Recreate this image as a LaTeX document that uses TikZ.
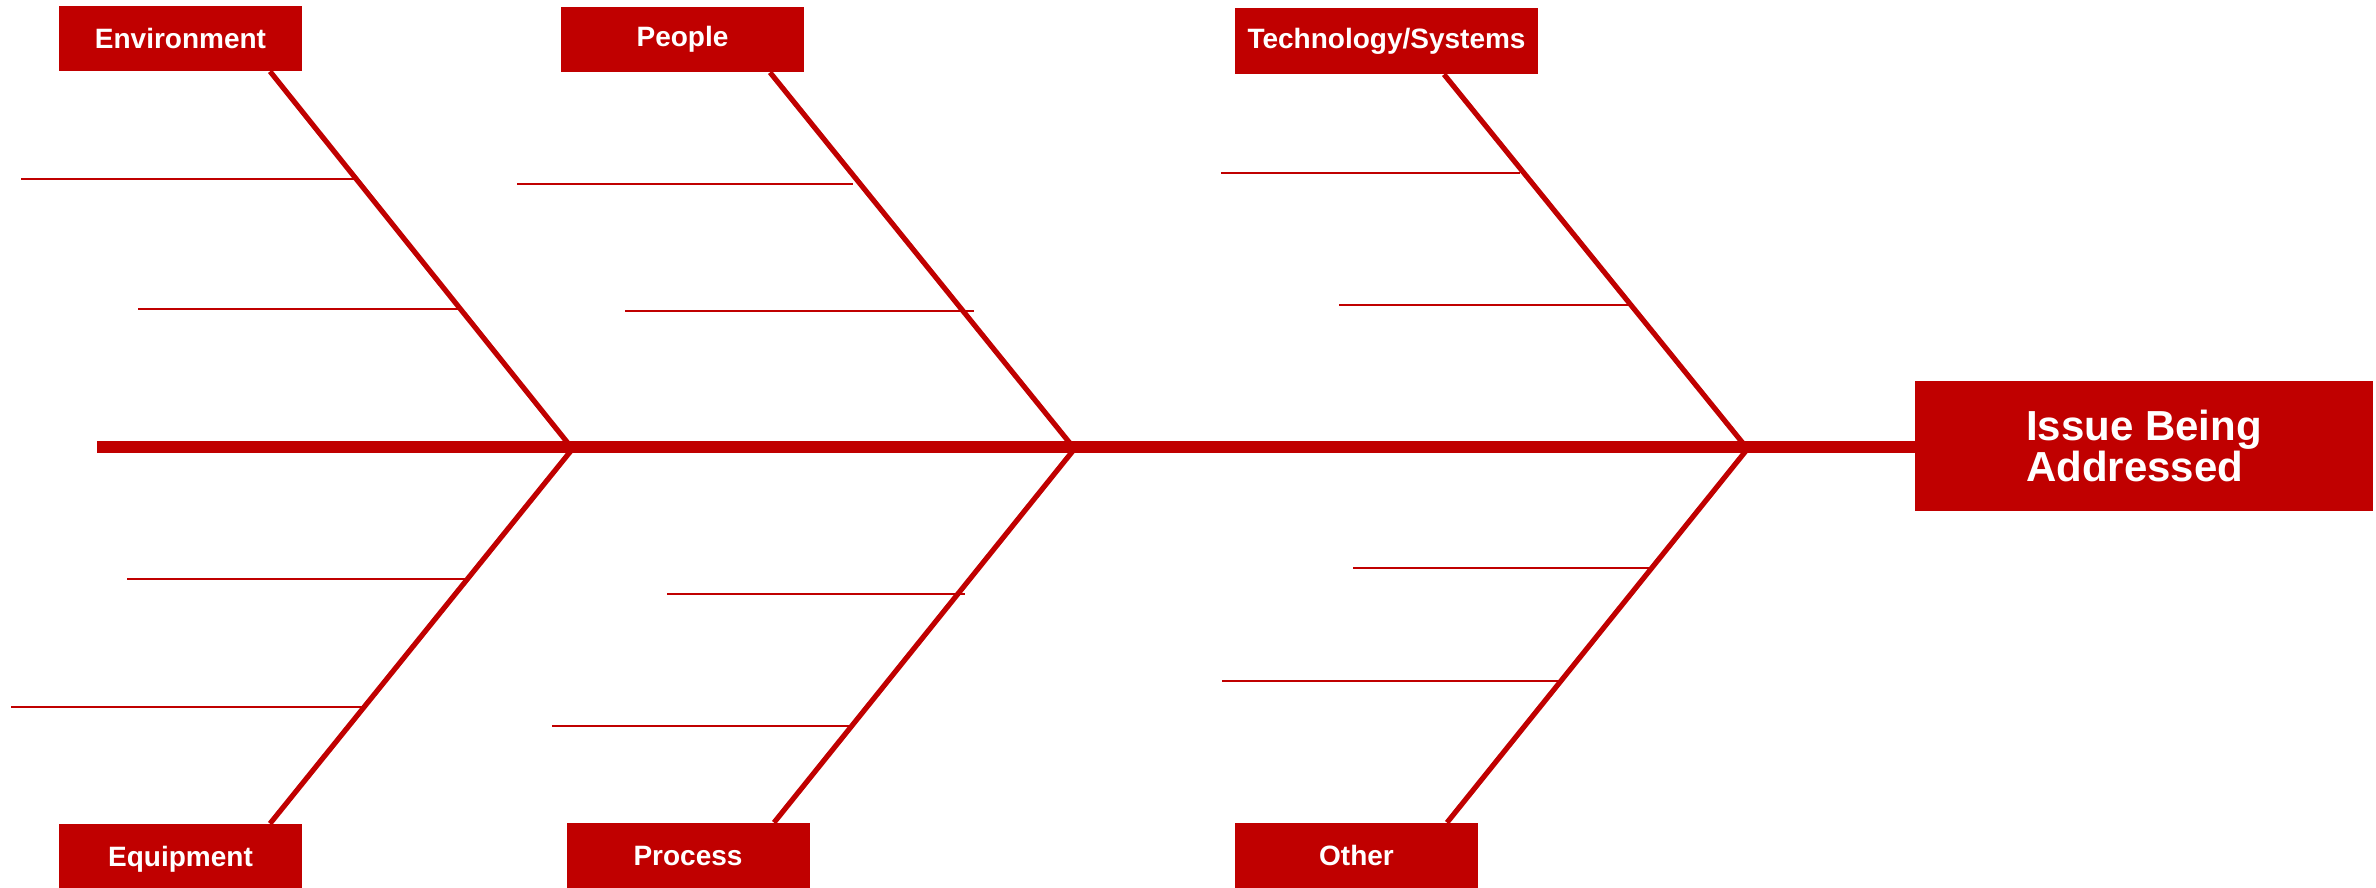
\documentclass[tikz,border=0pt]{standalone}
\usepackage{fontspec}
\setmainfont{Liberation Sans}
\definecolor{fishred}{HTML}{C00000}
\tikzset{
 causebox/.style={fill=fishred, text=white, font=\fontsize{14}{16}\selectfont\bfseries, inner sep=0pt, minimum width=121.5pt, minimum height=32.5pt},
 bone/.style={fishred, line width=2.6pt},
 rib/.style={fishred, line width=0.8pt}
}

\begin{document}
\begin{tikzpicture}[x=0.5pt, y=-0.5pt]
\useasboundingbox (0,0) rectangle (2376,888);
\node[causebox] (env) at (180.5,38.5) {Environment};
\node[causebox] (ppl) at (682.5,39.5) {People};
\node[causebox, minimum width=151.5pt, minimum height=33pt] (tech) at (1386.5,41) {Technology/Systems};
\node[causebox, minimum height=35pt] (equip) at (180.5,859) {Equipment};
\node[causebox] (proc) at (688,855.5) {Process};
\node[causebox] (other) at (1356.5,855.5) {Other};
\node[causebox, minimum width=229pt, minimum height=65pt, font=\fontsize{21}{20.5}\selectfont\bfseries, align=left] (issue) at (2144,446) {Issue Being\\Addressed};

\coordinate (tail) at (97,447);
\draw[fishred, line width=6pt] (tail) -- (issue.west |- tail);
\foreach \n/\x/\m in {env/270/571, ppl/770/1073, tech/1444/1746}
 \draw[bone] (\n.south -| \x,0) -- (\m,447);
\foreach \n/\x/\m in {equip/270/574, proc/774/1076, other/1447/1749}
 \draw[bone] (\m,447) -- (\n.north -| \x,0);

\foreach \y/\a/\b in {179/21/355, 309/138/460, 184/517/853, 311/625/974, 173/1221/1520, 305/1339/1630,
 579/127/467, 707/11/363, 594/667/965, 726/552/849, 568/1353/1650, 681/1222/1560}
 \draw[rib] (\a,\y) -- (\b,\y);
\end{tikzpicture}
\end{document}
